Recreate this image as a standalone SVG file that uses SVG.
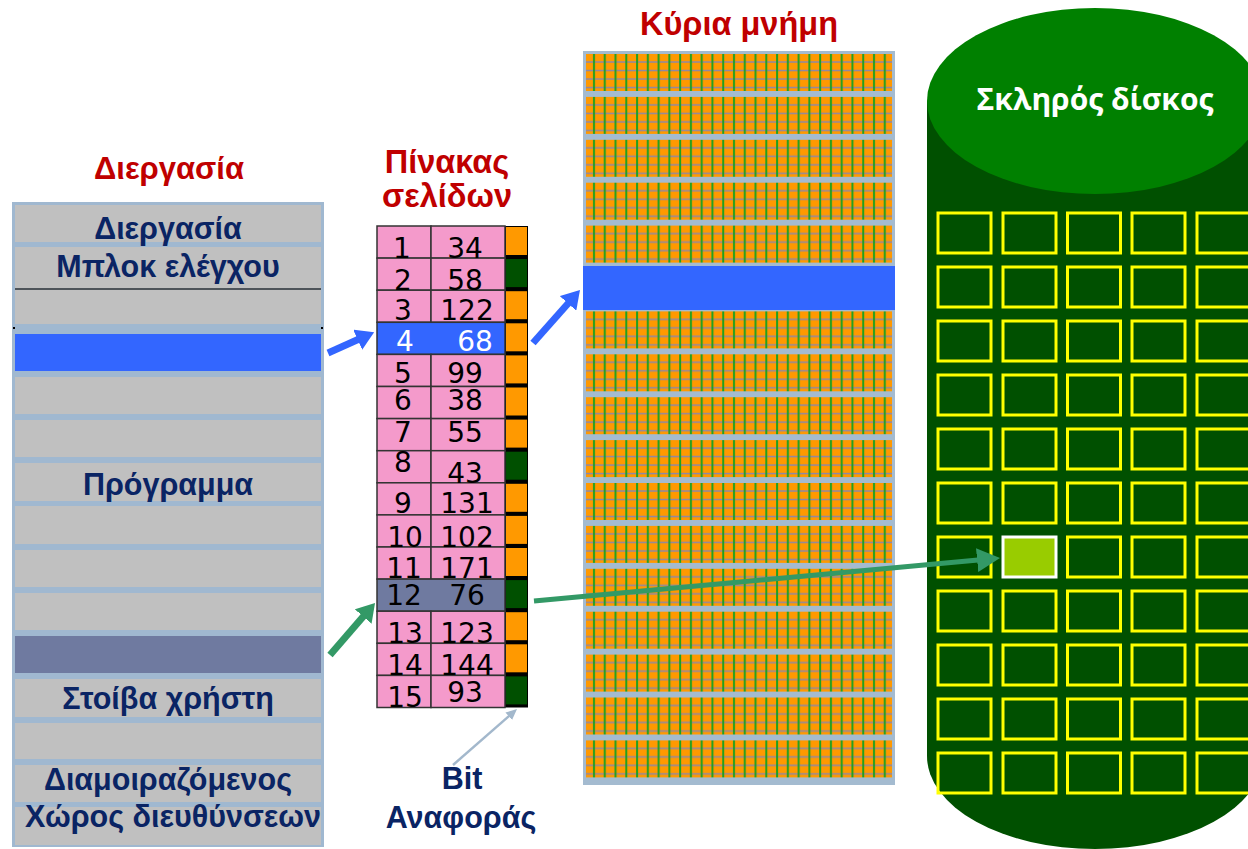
<svg xmlns="http://www.w3.org/2000/svg" width="1248" height="849" viewBox="0 0 1248 849">
<defs>
<style>
.title{font-family:"Liberation Sans",Arial,sans-serif;font-weight:bold;font-size:32.5px;fill:#C00000;text-anchor:middle}
.lbl{font-family:"Liberation Sans",Arial,sans-serif;font-weight:bold;font-size:30.5px;fill:#0A2464;text-anchor:middle}
.cell{fill:#C0C0C0}
.pt{fill:#F49ACB;stroke:#333;stroke-width:1.5}
.num{font-family:"DejaVu Sans",Verdana,sans-serif;font-size:28px;fill:#000;text-anchor:middle}
.wt{fill:#FFFFFF}
.bo{fill:#FF9900}
.bg{fill:#005000}
.band{fill:url(#memgrid)}
.sq{fill:none;stroke:#FFFF00;stroke-width:3}
</style>
<pattern id="memgrid" patternUnits="userSpaceOnUse" x="589" y="54" width="10.77" height="42.9">
<rect width="10.77" height="42.9" fill="#FF9900"/>
<g stroke="#8C88A8" stroke-width="1.5">
<line x1="0" x2="10.77" y1="8" y2="8"/>
<line x1="0" x2="10.77" y1="16.5" y2="16.5"/>
<line x1="0" x2="10.77" y1="25" y2="25"/>
<line x1="0" x2="10.77" y1="33.5" y2="33.5"/>
</g>
<line x1="5" x2="5" y1="0" y2="42.9" stroke="#1FA01F" stroke-width="2"/>
</pattern>
<marker id="hBlue" markerUnits="userSpaceOnUse" viewBox="0 -11 18 22" refX="1" refY="0" markerWidth="18" markerHeight="22" orient="auto"><path d="M0,-11 L18,0 L0,11 Z" fill="#3366FF"/></marker>
<marker id="hGreen" markerUnits="userSpaceOnUse" viewBox="0 -11 18 22" refX="1" refY="0" markerWidth="18" markerHeight="22" orient="auto"><path d="M0,-11 L18,0 L0,11 Z" fill="#339966"/></marker>
<marker id="hGreenBig" markerUnits="userSpaceOnUse" viewBox="0 -12 23 24" refX="1" refY="0" markerWidth="23" markerHeight="24" orient="auto"><path d="M0,-12 L23,0 L0,12 Z" fill="#339966"/></marker>
<marker id="hThin" markerUnits="userSpaceOnUse" viewBox="0 -5 11 10" refX="1" refY="0" markerWidth="11" markerHeight="10" orient="auto"><path d="M0,-5 L11,0 L0,5 Z" fill="#A3B8CC"/></marker>
</defs>

<g id="process">
<text class="title" x="169" y="179" style="font-size:31px">Διεργασία</text>
<rect x="12" y="202" width="312" height="645" fill="#A0B8D0"/>
<rect class="cell" x="15" y="205" width="306" height="37"/>
<rect class="cell" x="15" y="247" width="306" height="41"/>
<line x1="15" x2="321" y1="289" y2="289" stroke="#333" stroke-width="1.5"/>
<rect class="cell" x="15" y="290" width="306" height="34"/>
<line x1="13" x2="15" y1="328" y2="328" stroke="#000" stroke-width="2"/>
<line x1="321" x2="323" y1="328" y2="328" stroke="#000" stroke-width="2"/>
<rect x="15" y="334" width="306" height="37" fill="#3366FF"/>
<rect class="cell" x="15" y="377" width="306" height="37"/>
<rect class="cell" x="15" y="420" width="306" height="37"/>
<rect class="cell" x="15" y="463" width="306" height="38"/>
<rect class="cell" x="15" y="506" width="306" height="38"/>
<rect class="cell" x="15" y="550" width="306" height="37"/>
<rect class="cell" x="15" y="593" width="306" height="37"/>
<rect x="15" y="636" width="306" height="37" fill="#6F7AA0"/>
<rect class="cell" x="15" y="679" width="306" height="38"/>
<rect class="cell" x="15" y="723" width="306" height="36"/>
<rect class="cell" x="15" y="765" width="306" height="37"/>
<rect class="cell" x="15" y="807" width="306" height="38"/>
<text class="lbl" x="168" y="239">Διεργασία</text>
<text class="lbl" x="168" y="277">Μπλοκ ελέγχου</text>
<text class="lbl" x="168" y="495">Πρόγραμμα</text>
<text class="lbl" x="168" y="709">Στοίβα χρήστη</text>
<text class="lbl" x="168" y="790">Διαμοιραζόμενος</text>
<text class="lbl" x="173" y="827">Χώρος διευθύνσεων</text>
</g>

<g id="pagetable">
<text class="title" x="447" y="173">Πίνακας</text>
<text class="title" x="447" y="207">σελίδων</text>
<rect x="505" y="226" width="23" height="481.5" fill="#000"/>
<g>
<rect class="pt" x="377" y="226" width="54" height="32.1"/><rect class="pt" x="431" y="226" width="74" height="32.1"/>
<rect class="pt" x="377" y="258.1" width="54" height="32.1"/><rect class="pt" x="431" y="258.1" width="74" height="32.1"/>
<rect class="pt" x="377" y="290.2" width="54" height="32.1"/><rect class="pt" x="431" y="290.2" width="74" height="32.1"/>
<rect x="377" y="322.3" width="128" height="32.1" fill="#3366FF" stroke="#333" stroke-width="1.5"/>
<rect class="pt" x="377" y="354.4" width="54" height="32.1"/><rect class="pt" x="431" y="354.4" width="74" height="32.1"/>
<rect class="pt" x="377" y="386.5" width="54" height="32.1"/><rect class="pt" x="431" y="386.5" width="74" height="32.1"/>
<rect class="pt" x="377" y="418.6" width="54" height="32.1"/><rect class="pt" x="431" y="418.6" width="74" height="32.1"/>
<rect class="pt" x="377" y="450.7" width="54" height="32.1"/><rect class="pt" x="431" y="450.7" width="74" height="32.1"/>
<rect class="pt" x="377" y="482.8" width="54" height="32.1"/><rect class="pt" x="431" y="482.8" width="74" height="32.1"/>
<rect class="pt" x="377" y="514.9" width="54" height="32.1"/><rect class="pt" x="431" y="514.9" width="74" height="32.1"/>
<rect class="pt" x="377" y="547" width="54" height="32.1"/><rect class="pt" x="431" y="547" width="74" height="32.1"/>
<rect x="377" y="579.1" width="128" height="32.1" fill="#6F7AA0" stroke="#333" stroke-width="1.5"/>
<rect class="pt" x="377" y="611.2" width="54" height="32.1"/><rect class="pt" x="431" y="611.2" width="74" height="32.1"/>
<rect class="pt" x="377" y="643.3" width="54" height="32.1"/><rect class="pt" x="431" y="643.3" width="74" height="32.1"/>
<rect class="pt" x="377" y="675.4" width="54" height="32.1"/><rect class="pt" x="431" y="675.4" width="74" height="32.1"/>
</g>
<g>
<rect class="bo" x="506" y="227" width="21" height="28"/>
<rect class="bg" x="506" y="259.1" width="21" height="28"/>
<rect class="bo" x="506" y="291.2" width="21" height="28"/>
<rect class="bo" x="506" y="323.3" width="21" height="28"/>
<rect class="bo" x="506" y="355.4" width="21" height="28"/>
<rect class="bo" x="506" y="387.5" width="21" height="28"/>
<rect class="bo" x="506" y="419.6" width="21" height="28"/>
<rect class="bg" x="506" y="451.7" width="21" height="28"/>
<rect class="bo" x="506" y="483.8" width="21" height="28"/>
<rect class="bo" x="506" y="515.9" width="21" height="28"/>
<rect class="bo" x="506" y="548" width="21" height="28"/>
<rect class="bg" x="506" y="580.1" width="21" height="28"/>
<rect class="bo" x="506" y="612.2" width="21" height="28"/>
<rect class="bo" x="506" y="644.3" width="21" height="28"/>
<rect class="bg" x="506" y="676.4" width="21" height="28"/>
</g>
<g>
<text class="num" x="402" y="258">1</text><text class="num" x="465" y="258">34</text>
<text class="num" x="403" y="290">2</text><text class="num" x="465" y="290">58</text>
<text class="num" x="403" y="320">3</text><text class="num" x="467" y="320">122</text>
<text class="num wt" x="405" y="351">4</text><text class="num wt" x="475" y="351">68</text>
<text class="num" x="403" y="383">5</text><text class="num" x="465" y="383">99</text>
<text class="num" x="403" y="410">6</text><text class="num" x="465" y="410">38</text>
<text class="num" x="403" y="442">7</text><text class="num" x="465" y="442">55</text>
<text class="num" x="403" y="472">8</text><text class="num" x="465" y="483">43</text>
<text class="num" x="403" y="513">9</text><text class="num" x="467" y="513">131</text>
<text class="num" x="405" y="547">10</text><text class="num" x="467" y="547">102</text>
<text class="num" x="404" y="578">11</text><text class="num" x="467" y="578">171</text>
<text class="num" x="404" y="605">12</text><text class="num" x="467" y="605">76</text>
<text class="num" x="405" y="643">13</text><text class="num" x="467" y="643">123</text>
<text class="num" x="405" y="675">14</text><text class="num" x="467" y="675">144</text>
<text class="num" x="405" y="707">15</text><text class="num" x="465" y="702">93</text>
</g>
<text class="lbl" x="462" y="789">Bit</text>
<text class="lbl" x="461" y="828">Αναφοράς</text>
</g>

<g id="memory">
<text class="title" x="739" y="35">Κύρια μνήμη</text>
<rect x="583" y="51" width="312" height="734" fill="#A4BBD0"/>
<rect class="band" x="586" y="54" width="306" height="37"/>
<rect class="band" x="586" y="96.9" width="306" height="37"/>
<rect class="band" x="586" y="139.8" width="306" height="37"/>
<rect class="band" x="586" y="182.7" width="306" height="37"/>
<rect class="band" x="586" y="225.6" width="306" height="37"/>
<rect x="583" y="266" width="312" height="44" fill="#3366FF"/>
<rect class="band" x="586" y="311.4" width="306" height="37"/>
<rect class="band" x="586" y="354.3" width="306" height="37"/>
<rect class="band" x="586" y="397.2" width="306" height="37"/>
<rect class="band" x="586" y="440.1" width="306" height="37"/>
<rect class="band" x="586" y="483" width="306" height="37"/>
<rect class="band" x="586" y="525.9" width="306" height="37"/>
<rect class="band" x="586" y="568.8" width="306" height="37"/>
<rect class="band" x="586" y="611.7" width="306" height="37"/>
<rect class="band" x="586" y="654.6" width="306" height="37"/>
<rect class="band" x="586" y="697.5" width="306" height="37"/>
<rect class="band" x="586" y="740.4" width="306" height="37"/>
</g>

<g id="disk">
<path d="M927,101 L927,756 A168,93 0 0 0 1263,756 L1263,101 Z" fill="#005000"/>
<ellipse cx="1095" cy="101" rx="168" ry="93" fill="#008000"/>
<text x="1095" y="110" text-anchor="middle" font-family="'Open Sans','DejaVu Sans',sans-serif" font-weight="bold" font-size="30" fill="#FFFFFF">Σκληρός δίσκος</text>
<g id="blocks">
<rect class="sq" x="938" y="213" width="53" height="40"/><rect class="sq" x="1003" y="213" width="53" height="40"/><rect class="sq" x="1067.5" y="213" width="53" height="40"/><rect class="sq" x="1132" y="213" width="53" height="40"/><rect class="sq" x="1197" y="213" width="53" height="40"/>
<rect class="sq" x="938" y="267" width="53" height="40"/><rect class="sq" x="1003" y="267" width="53" height="40"/><rect class="sq" x="1067.5" y="267" width="53" height="40"/><rect class="sq" x="1132" y="267" width="53" height="40"/><rect class="sq" x="1197" y="267" width="53" height="40"/>
<rect class="sq" x="938" y="321" width="53" height="40"/><rect class="sq" x="1003" y="321" width="53" height="40"/><rect class="sq" x="1067.5" y="321" width="53" height="40"/><rect class="sq" x="1132" y="321" width="53" height="40"/><rect class="sq" x="1197" y="321" width="53" height="40"/>
<rect class="sq" x="938" y="375" width="53" height="40"/><rect class="sq" x="1003" y="375" width="53" height="40"/><rect class="sq" x="1067.5" y="375" width="53" height="40"/><rect class="sq" x="1132" y="375" width="53" height="40"/><rect class="sq" x="1197" y="375" width="53" height="40"/>
<rect class="sq" x="938" y="429" width="53" height="40"/><rect class="sq" x="1003" y="429" width="53" height="40"/><rect class="sq" x="1067.5" y="429" width="53" height="40"/><rect class="sq" x="1132" y="429" width="53" height="40"/><rect class="sq" x="1197" y="429" width="53" height="40"/>
<rect class="sq" x="938" y="483" width="53" height="40"/><rect class="sq" x="1003" y="483" width="53" height="40"/><rect class="sq" x="1067.5" y="483" width="53" height="40"/><rect class="sq" x="1132" y="483" width="53" height="40"/><rect class="sq" x="1197" y="483" width="53" height="40"/>
<rect class="sq" x="938" y="537" width="53" height="40"/><rect x="1003" y="537" width="53" height="40" fill="#99CC00" stroke="#FFFFFF" stroke-width="3"/><rect class="sq" x="1067.5" y="537" width="53" height="40"/><rect class="sq" x="1132" y="537" width="53" height="40"/><rect class="sq" x="1197" y="537" width="53" height="40"/>
<rect class="sq" x="938" y="591" width="53" height="40"/><rect class="sq" x="1003" y="591" width="53" height="40"/><rect class="sq" x="1067.5" y="591" width="53" height="40"/><rect class="sq" x="1132" y="591" width="53" height="40"/><rect class="sq" x="1197" y="591" width="53" height="40"/>
<rect class="sq" x="938" y="645" width="53" height="40"/><rect class="sq" x="1003" y="645" width="53" height="40"/><rect class="sq" x="1067.5" y="645" width="53" height="40"/><rect class="sq" x="1132" y="645" width="53" height="40"/><rect class="sq" x="1197" y="645" width="53" height="40"/>
<rect class="sq" x="938" y="699" width="53" height="40"/><rect class="sq" x="1003" y="699" width="53" height="40"/><rect class="sq" x="1067.5" y="699" width="53" height="40"/><rect class="sq" x="1132" y="699" width="53" height="40"/><rect class="sq" x="1197" y="699" width="53" height="40"/>
<rect class="sq" x="938" y="753" width="53" height="40"/><rect class="sq" x="1003" y="753" width="53" height="40"/><rect class="sq" x="1067.5" y="753" width="53" height="40"/><rect class="sq" x="1132" y="753" width="53" height="40"/><rect class="sq" x="1197" y="753" width="53" height="40"/>
</g>
</g>

<g id="connectors" fill="none">
<line x1="328" y1="353" x2="358.6" y2="339.3" stroke="#3366FF" stroke-width="7" marker-end="url(#hBlue)"/>
<line x1="533" y1="343" x2="568.7" y2="302.7" stroke="#3366FF" stroke-width="7" marker-end="url(#hBlue)"/>
<line x1="330" y1="655" x2="363.9" y2="615.8" stroke="#339966" stroke-width="7" marker-end="url(#hGreen)"/>
<line x1="534" y1="601" x2="978.1" y2="560" stroke="#339966" stroke-width="5" marker-end="url(#hGreenBig)"/>
<line x1="453" y1="765" x2="509.5" y2="715.6" stroke="#A3B8CC" stroke-width="2.5" marker-end="url(#hThin)"/>
</g>
</svg>
